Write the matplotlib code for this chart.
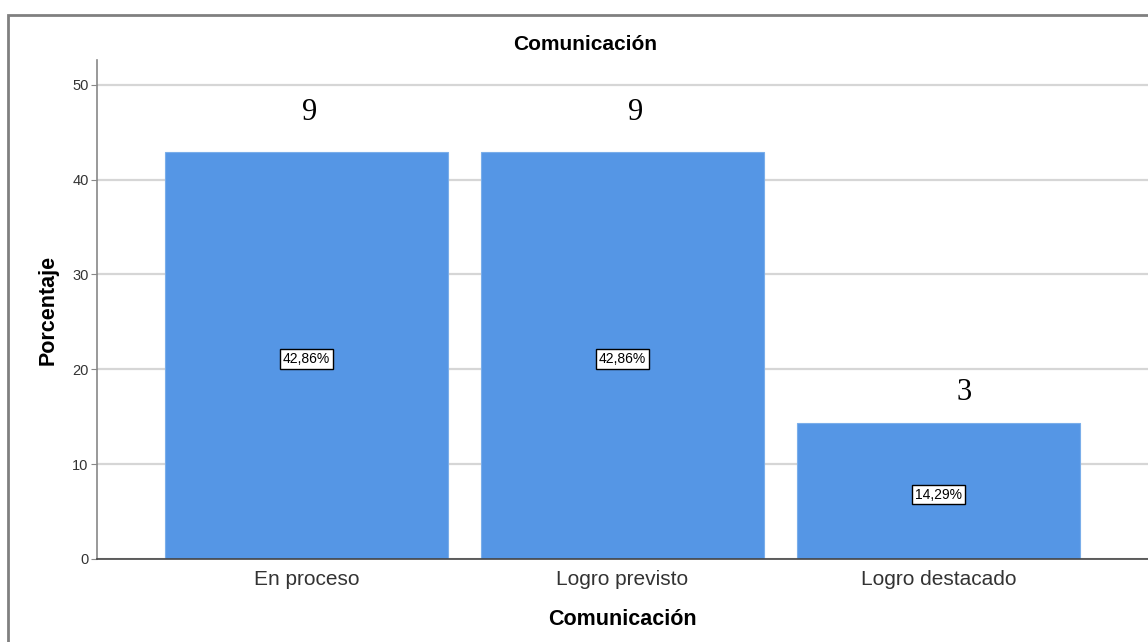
import matplotlib.pyplot as plt
from matplotlib.patches import Rectangle

categories = ['En proceso', 'Logro previsto', 'Logro destacado']
percentages = [42.86, 42.86, 14.29]
counts = [9, 9, 3]
pct_labels = ['42,86%', '42,86%', '14,29%']

plt.rcParams['font.family'] = ['Liberation Sans', 'DejaVu Sans']

fig = plt.figure(figsize=(11.48, 6.42), dpi=100)
ax = fig.add_axes([97 / 1148, 83 / 642, 1 - 97 / 1148, 499 / 642])

# outer frame (cut off at right and bottom)
fig.patches.append(Rectangle((8 / 1148, -0.05), 1.1, (642 - 15) / 642 + 0.05,
                             transform=fig.transFigure, fill=False,
                             edgecolor='#808080', linewidth=2, zorder=0))

x = range(len(categories))
ax.bar(x, percentages, width=0.896, color='#5596e5', edgecolor='#7aaeea',
       linewidth=0.8, zorder=2)

ax.set_xlim(-0.663, 2.663)
ax.set_ylim(0, 52.6)
ax.set_yticks([0, 10, 20, 30, 40, 50])
ax.set_xticks(list(x))
ax.set_xticklabels(categories, fontsize=15, color='#333333')
ax.tick_params(axis='y', labelsize=10.5, length=4, color='#888888',
               labelcolor='#333333', pad=2)
ax.tick_params(axis='x', length=0, pad=8)
ax.grid(axis='y', color='#d6d6d6', linewidth=1.6, zorder=0)
ax.set_axisbelow(True)

for s in ['top', 'right']:
    ax.spines[s].set_visible(False)
ax.spines['left'].set_color('#888888')
ax.spines['bottom'].set_color('#444444')
ax.spines['left'].set_linewidth(1.2)
ax.spines['bottom'].set_linewidth(1.2)

x_off = [0.01, 0.04, 0.08]
y_off = [4.2, 4.2, 3.3]
for i, (p, c, lab) in enumerate(zip(percentages, counts, pct_labels)):
    ax.text(i + x_off[i], p + y_off[i], str(c), ha='center', va='center',
            fontsize=22, family='Liberation Serif', color='black', zorder=4)
    ax.text(i, p / 2 - 0.35, lab, ha='center', va='center', fontsize=10,
            zorder=4,
            bbox=dict(boxstyle='square,pad=0.2', facecolor='white',
                      edgecolor='black', linewidth=1))

fig.text(585 / 1148, 1 - 44 / 642, 'Comunicación', ha='center', va='center',
         fontsize=15, fontweight='bold')
ax.set_xlabel('Comunicación', fontsize=15.5, fontweight='bold', labelpad=14)
ax.set_ylabel('Porcentaje', fontsize=15.5, fontweight='bold', labelpad=10)

fig.savefig('out.png', dpi=100)
